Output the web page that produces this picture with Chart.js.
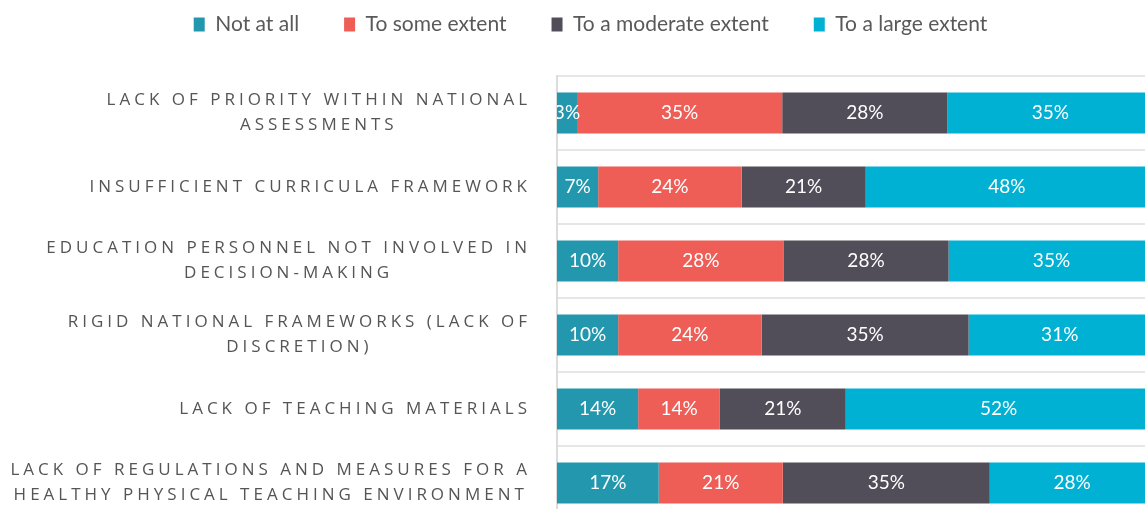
<!DOCTYPE html>
<html>
<head>
  <meta charset="UTF-8">
  <title>Barriers</title>
  <script src="https://cdn.jsdelivr.net/npm/chart.js"></script>
  <style>
    html, body {
      margin: 0;
      padding: 0;
      overflow: hidden;
      background: #fff;
    }
    #wrap {
      width: 1147px;
      height: 520px;
    }
  </style>
</head>
<body>
  <div id="wrap"><canvas id="chart" width="1147" height="520"></canvas></div>

  <script>
    // categories (multi-line labels) and series values, in %
    const categories = [
      ['LACK OF PRIORITY WITHIN NATIONAL', 'ASSESSMENTS'],
      ['INSUFFICIENT CURRICULA FRAMEWORK'],
      ['EDUCATION PERSONNEL NOT INVOLVED IN', 'DECISION-MAKING'],
      ['RIGID NATIONAL FRAMEWORKS (LACK OF', 'DISCRETION)'],
      ['LACK OF TEACHING MATERIALS'],
      ['LACK OF REGULATIONS AND MEASURES FOR A', 'HEALTHY PHYSICAL TEACHING ENVIRONMENT']
    ];
    const seriesNames = ['Not at all', 'To some extent', 'To a moderate extent', 'To a large extent'];
    const notAtAll       = [3.4, 7.0, 10.4, 10.4, 13.8, 17.3];
    const someExtent     = [34.9, 24.4, 28.1, 24.4, 13.9, 21.1];
    const moderateExtent = [28.1, 21.1, 28.1, 35.2, 21.4, 35.2];
    const largeExtent    = [35, 48, 35, 31, 52, 28];
    const colors = ['#2397ad', '#ee5e57', '#524e59', '#00b1d3'];

    // category labels: first line right aligned, next lines centred under it
    const catLabels = {
      id: 'catLabels',
      afterDraw(chart) {
        const ctx = chart.ctx;
        const y = chart.scales.y;
        ctx.save();
        ctx.font = '17px "Open Sans"';
        ctx.letterSpacing = '4px';
        ctx.fillStyle = '#555555';
        ctx.textAlign = 'center';
        ctx.textBaseline = 'middle';
        categories.forEach((lines, i) => {
          const yc = y.getPixelForValue(i);
          const w = ctx.measureText(lines[0]).width;
          const cx = 531 - w / 2;
          lines.forEach((t, j) => {
            ctx.fillText(t, cx, yc + (j - (lines.length - 1) / 2) * 25);
          });
        });
        ctx.restore();
      }
    };

    // percentage labels inside the bars
    const barLabels = {
      id: 'barLabels',
      afterDatasetsDraw(chart) {
        const ctx = chart.ctx;
        const area = chart.chartArea;
        ctx.save();
        ctx.beginPath();
        ctx.rect(area.left, area.top, area.right - area.left, area.bottom - area.top);
        ctx.clip();
        ctx.font = '19px Lato';
        ctx.fillStyle = '#ffffff';
        ctx.textAlign = 'center';
        ctx.textBaseline = 'middle';
        chart.data.datasets.forEach((ds, di) => {
          chart.getDatasetMeta(di).data.forEach((bar, i) => {
            const x = (bar.x + bar.base) / 2;
            ctx.fillText(Math.round(ds.data[i]) + '%', x, bar.y);
          });
        });
        ctx.restore();
      }
    };

    const seriesData = [notAtAll, someExtent, moderateExtent, largeExtent];

    new Chart(document.getElementById('chart').getContext('2d'), {
      type: 'bar',
      data: {
        labels: categories,
        datasets: seriesNames.map((name, k) => ({
          label: name,
          data: seriesData[k],
          backgroundColor: colors[k],
          borderWidth: 0,
          barPercentage: 0.555,
          categoryPercentage: 1
        }))
      },
      options: {
        indexAxis: 'y',
        responsive: false,
        animation: false,
        layout: {
          padding: { left: 36, right: 2, top: -31, bottom: 0 }
        },
        plugins: {
          legend: {
            position: 'top',
            labels: {
              boxWidth: 11,
              boxHeight: 14,
              padding: 45,
              color: '#595959',
              font: { family: 'Lato', size: 21 }
            }
          },
          tooltip: { enabled: false }
        },
        scales: {
          x: {
            stacked: true,
            min: 0,
            max: 100,
            position: 'top',
            grid: { display: false },
            border: { display: false },
            ticks: { display: false },
            afterFit(scale) { scale.height = 31; }
          },
          y: {
            stacked: true,
            grid: { color: '#e6e6e6', lineWidth: 2, offset: true, drawTicks: false },
            border: { color: '#dcdcdc', width: 2 },
            ticks: { display: false },
            afterFit(scale) { scale.width = 521; }
          }
        }
      },
      plugins: [catLabels, barLabels]
    });
  </script>
</body>
</html>
